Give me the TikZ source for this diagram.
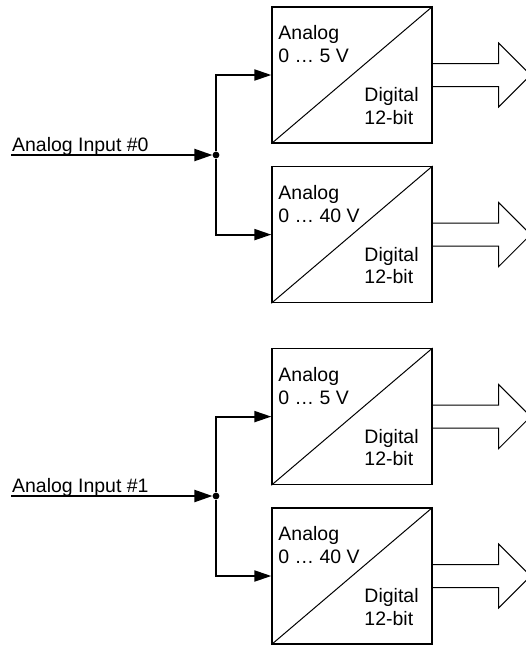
\documentclass[tikz,border=0pt]{standalone}
\usepackage{fontspec}
\setmainfont{Liberation Sans}
\usetikzlibrary{arrows.meta,positioning,calc}
\newcommand{\adcfont}{\fontsize{27.7}{32.5}\selectfont}
\tikzset{
 every node/.append style={font=\adcfont,text=black,align=left},
 adc/.style={draw,fill=white,line width=.065cm,minimum width=8cm,minimum height=6.8cm,inner sep=0pt},
 split/.style={line width=.05cm},
 word/.style={inner sep=0pt},
 joint/.style={circle,fill,inner sep=0pt,minimum size=.34cm},
 signal/.style={-{Triangle[length=.9cm,width=.6cm]},line width=.1cm},
 branch/.style={-{Triangle[length=.85cm,width=.55cm]},line width=.1cm},
 bus/.style={draw,line width=.05cm,line join=miter},
}

\begin{document}
\begin{tikzpicture}
\path[use as bounding box,clip] (0,0) rectangle (26.3,-32.3);

\node[adc] (adc0a) at (17.6,-3.75) {};
\node[adc] (adc0b) at (17.6,-11.73) {};
\node[adc] (adc1a) at (17.6,-20.83) {};
\node[adc] (adc1b) at (17.6,-28.8) {};

\draw[split] (adc0a.south west) -- (adc0a.north east);
\draw[split] (adc0b.south west) -- (adc0b.north east);
\draw[split] (adc1a.south west) -- (adc1a.north east);
\draw[split] (adc1b.south west) -- (adc1b.north east);

\node[word,anchor=north west] (adc0a-in) at ([xshift=.35cm,yshift=-.95cm]adc0a.north west) {Analog\\0 … 5 V};
\node[word,anchor=south west] (adc0a-out) at ([xshift=4.65cm,yshift=.95cm]adc0a.south west) {Digital\\12-bit};
\node[word,anchor=north west] (adc0b-in) at ([xshift=.35cm,yshift=-.95cm]adc0b.north west) {Analog\\0 … 40 V};
\node[word,anchor=south west] (adc0b-out) at ([xshift=4.65cm,yshift=.95cm]adc0b.south west) {Digital\\12-bit};
\node[word,anchor=north west] (adc1a-in) at ([xshift=.35cm,yshift=-.95cm]adc1a.north west) {Analog\\0 … 5 V};
\node[word,anchor=south west] (adc1a-out) at ([xshift=4.65cm,yshift=.95cm]adc1a.south west) {Digital\\12-bit};
\node[word,anchor=north west] (adc1b-in) at ([xshift=.35cm,yshift=-.95cm]adc1b.north west) {Analog\\0 … 40 V};
\node[word,anchor=south west] (adc1b-out) at ([xshift=4.65cm,yshift=.95cm]adc1b.south west) {Digital\\12-bit};

\draw[bus] ([yshift=.575cm]adc0a.east) -- ++(3.3,0) -- ++(0,1.025) -- ++(1.6,-1.6) -- ++(-1.6,-1.6) -- ++(0,1.025) -- ++(-3.3,0);
\draw[bus] ([yshift=.575cm]adc0b.east) -- ++(3.3,0) -- ++(0,1.025) -- ++(1.6,-1.6) -- ++(-1.6,-1.6) -- ++(0,1.025) -- ++(-3.3,0);
\draw[bus] ([yshift=.575cm]adc1a.east) -- ++(3.3,0) -- ++(0,1.025) -- ++(1.6,-1.6) -- ++(-1.6,-1.6) -- ++(0,1.025) -- ++(-3.3,0);
\draw[bus] ([yshift=.575cm]adc1b.east) -- ++(3.3,0) -- ++(0,1.025) -- ++(1.6,-1.6) -- ++(-1.6,-1.6) -- ++(0,1.025) -- ++(-3.3,0);

\coordinate (in0) at (0.55,-7.75);
\node[joint] (j0) at (10.8,-7.75) {};
\node[word,anchor=base west] (in0-label) at (0.6,-7.57) {Analog Input \#0};
\draw[signal] (in0) -- (j0);
\draw[branch] (j0) |- (adc0a);
\draw[branch] (j0) |- (adc0b);

\coordinate (in1) at (0.55,-24.8);
\node[joint] (j1) at (10.8,-24.8) {};
\node[word,anchor=base west] (in1-label) at (0.6,-24.62) {Analog Input \#1};
\draw[signal] (in1) -- (j1);
\draw[branch] (j1) |- (adc1a);
\draw[branch] (j1) |- (adc1b);

\end{tikzpicture}
\end{document}
